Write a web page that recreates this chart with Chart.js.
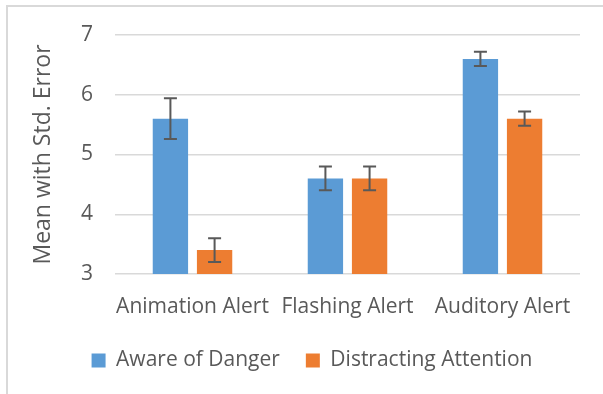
<!DOCTYPE html>
<html>
<head>
<meta charset="utf-8">
<script src="https://cdn.jsdelivr.net/npm/chart.js@4"></script>
<style>
  html, body { margin: 0; padding: 0; background: #fff; overflow: hidden; }
  #frame { position: absolute; left: 6px; top: 5px; width: 700px; height: 500px; border: 2px solid #d9d9d9; }
  #wrap  { position: absolute; left: 0; top: 0; width: 603px; height: 394px; }
</style>
</head>
<body>
<div id="frame"></div>
<div id="wrap"><canvas id="chart"></canvas></div>
<script>
'use strict';

/* ── DATA ──────────────────────────────────────────────────────── */
var categories     = ['Animation Alert', 'Flashing Alert', 'Auditory Alert'];
var awareMeans     = [5.6, 4.6, 6.6];
var awareErrors    = [0.34, 0.2, 0.12];
var distractMeans  = [3.4, 4.6, 5.6];
var distractErrors = [0.2, 0.2, 0.12];
var seriesNames    = ['Aware of Danger', 'Distracting Attention'];

var TEXT = '#595959';
var FONT = '"Open Sans", sans-serif';

/* ── ERROR BARS ────────────────────────────────────────────────── */
var errorBars = {
  id: 'errorBars',
  afterDatasetsDraw: function(chart) {
    var ctx = chart.ctx;
    var y = chart.scales.y;
    ctx.save();
    ctx.strokeStyle = '#595959';
    ctx.lineWidth = 2;
    chart.data.datasets.forEach(function(ds, di) {
      var meta = chart.getDatasetMeta(di);
      meta.data.forEach(function(bar, i) {
        var v = ds.data[i], e = ds.errors[i];
        var top = y.getPixelForValue(v + e);
        var bot = y.getPixelForValue(v - e);
        var x = bar.x, cap = 6.5;
        ctx.beginPath();
        ctx.moveTo(x, top); ctx.lineTo(x, bot);
        ctx.moveTo(x - cap, top); ctx.lineTo(x + cap, top);
        ctx.moveTo(x - cap, bot); ctx.lineTo(x + cap, bot);
        ctx.stroke();
      });
    });
    ctx.restore();
  }
};

/* ── CHART ─────────────────────────────────────────────────────── */
new Chart(document.getElementById('chart'), {
  type: 'bar',
  data: {
    labels: categories,
    datasets: [
      { label: seriesNames[0], data: awareMeans, errors: awareErrors, backgroundColor: '#5b9bd5' },
      { label: seriesNames[1], data: distractMeans, errors: distractErrors, backgroundColor: '#ed7d31' }
    ]
  },
  options: {
    responsive: true,
    maintainAspectRatio: false,
    animation: false,
    devicePixelRatio: 1,
    categoryPercentage: 0.57,
    barPercentage: 0.8,
    /* left padding shifts the centred legend right, as in the original */
    layout: { padding: { left: 44, right: 23, top: 35, bottom: 13 } },
    scales: {
      x: {
        grid: { display: false },
        border: { display: false },
        ticks: { color: TEXT, font: { family: FONT, size: 21 }, padding: 12, maxRotation: 0, autoSkip: false },
        afterFit: function(s) { s.height = 50; }
      },
      y: {
        min: 3, max: 7,
        grid: { color: '#d9d9d9', lineWidth: 1.5, drawTicks: false },
        border: { display: false },
        ticks: { stepSize: 1, color: TEXT, font: { family: FONT, size: 21 }, padding: 22 },
        title: { display: true, text: 'Mean with Std. Error', color: TEXT, font: { family: FONT, size: 23 }, padding: { top: -14, bottom: 0 } },
        afterFit: function(s) { s.width = 71; }
      }
    },
    plugins: {
      legend: {
        position: 'bottom',
        labels: { color: TEXT, font: { family: FONT, size: 21 }, boxWidth: 14, boxHeight: 14, padding: 26 }
      },
      tooltip: { enabled: false }
    }
  },
  plugins: [errorBars]
});
</script>
</body>
</html>
